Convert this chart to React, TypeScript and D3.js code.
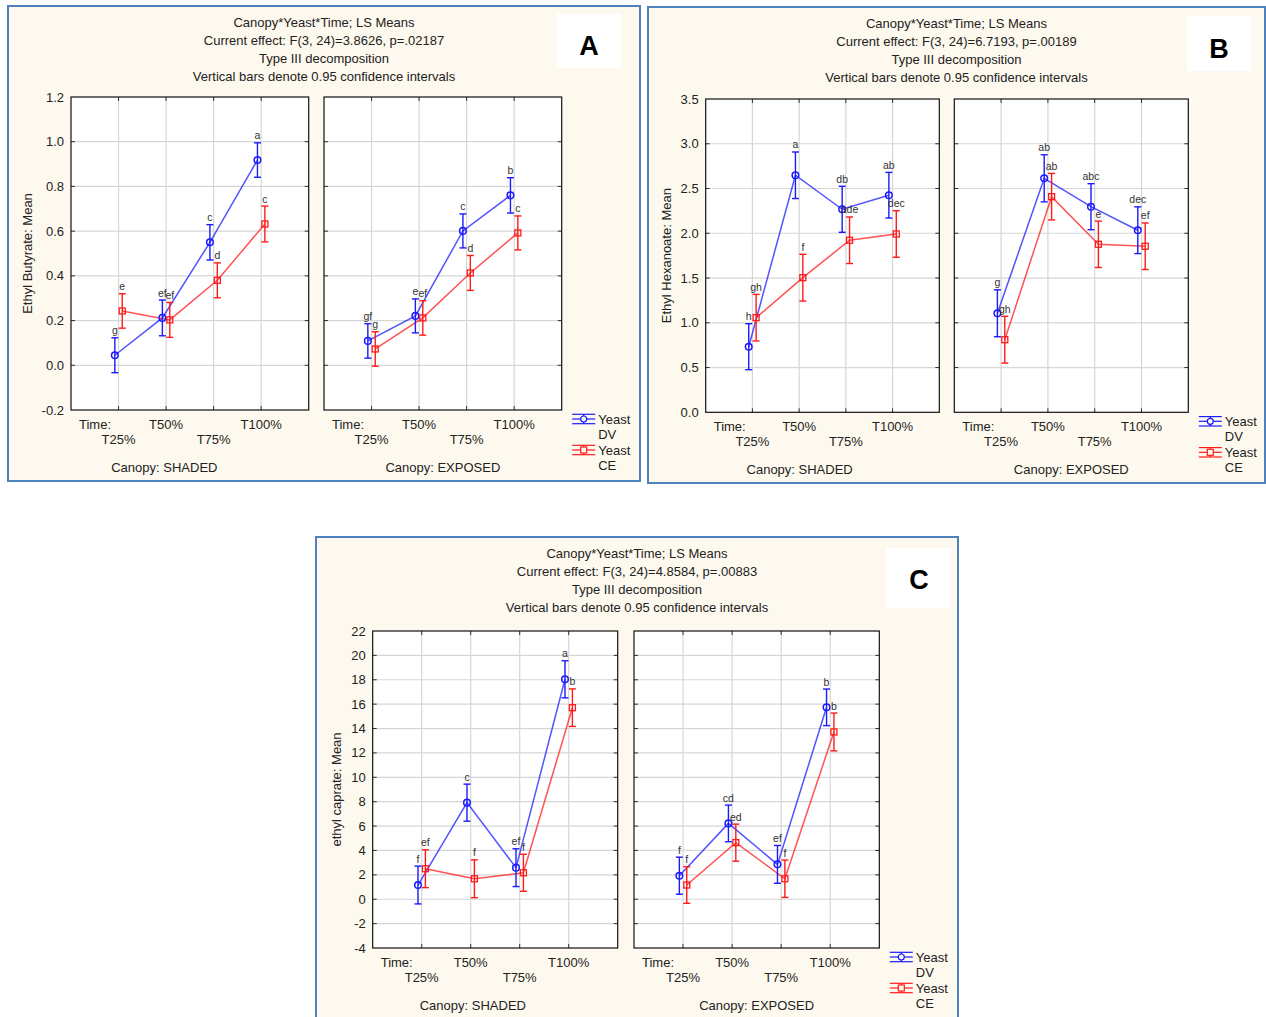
import React from "react";
import * as d3 from "d3";

// ---------- categories & tick labels ----------
const timeLabels = ["T25%", "T50%", "T75%", "T100%"];
const canopyLabels = ["SHADED", "EXPOSED"];
const yeastLabels = ["DV", "CE"];

const ticksA = [-0.2, 0, 0.2, 0.4, 0.6, 0.8, 1.0, 1.2];
const ticksB = [0, 0.5, 1.0, 1.5, 2.0, 2.5, 3.0, 3.5];
const ticksC = [-4, -2, 0, 2, 4, 6, 8, 10, 12, 14, 16, 18, 20, 22];

// ---------- Panel A: Ethyl Butyrate ----------
const butShadedDV = [0.045, 0.212, 0.55, 0.918];
const butShadedDVci = [0.078, 0.08, 0.079, 0.077];
const butShadedDVlet = ["g", "ef", "c", "a"];
const butShadedCE = [0.243, 0.203, 0.38, 0.632];
const butShadedCEci = [0.077, 0.078, 0.078, 0.08];
const butShadedCElet = ["e", "ef", "d", "c"];
const butExposedDV = [0.109, 0.221, 0.601, 0.76];
const butExposedDVci = [0.077, 0.076, 0.076, 0.079];
const butExposedDVlet = ["gf", "e", "c", "b"];
const butExposedCE = [0.073, 0.212, 0.413, 0.592];
const butExposedCEci = [0.077, 0.077, 0.078, 0.076];
const butExposedCElet = ["g", "ef", "d", "c"];

// ---------- Panel B: Ethyl Hexanoate ----------
const hexShadedDV = [0.733, 2.648, 2.268, 2.425];
const hexShadedDVci = [0.257, 0.26, 0.257, 0.255];
const hexShadedDVlet = ["h", "a", "db", "ab"];
const hexShadedCE = [1.057, 1.504, 1.922, 1.992];
const hexShadedCEci = [0.26, 0.261, 0.26, 0.26];
const hexShadedCElet = ["gh", "f", "ade", "dec"];
const hexExposedDV = [1.106, 2.614, 2.297, 2.034];
const hexExposedDVci = [0.262, 0.263, 0.257, 0.261];
const hexExposedDVlet = ["g", "ab", "abc", "dec"];
const hexExposedCE = [0.811, 2.409, 1.877, 1.855];
const hexExposedCEci = [0.261, 0.26, 0.259, 0.26];
const hexExposedCElet = ["gh", "ab", "e", "ef"];

// ---------- Panel C: ethyl caprate ----------
const capShadedDV = [1.165, 7.92, 2.59, 18.04];
const capShadedDVci = [1.55, 1.52, 1.55, 1.52];
const capShadedDVlet = ["f", "c", "ef", "a"];
const capShadedCE = [2.5, 1.68, 2.17, 15.71];
const capShadedCEci = [1.55, 1.55, 1.52, 1.54];
const capShadedCElet = ["ef", "f", "f", "b"];
const capExposedDV = [1.93, 6.22, 2.86, 15.74];
const capExposedDVci = [1.52, 1.5, 1.55, 1.5];
const capExposedDVlet = ["f", "cd", "ef", "b"];
const capExposedCE = [1.165, 4.64, 1.68, 13.72];
const capExposedCEci = [1.5, 1.52, 1.53, 1.55];
const capExposedCElet = ["f", "ed", "f", "b"];

const titleA = ["Canopy*Yeast*Time; LS Means", "Current effect: F(3, 24)=3.8626, p=.02187", "Type III decomposition", "Vertical bars denote 0.95 confidence intervals"];
const titleB = ["Canopy*Yeast*Time; LS Means", "Current effect: F(3, 24)=6.7193, p=.00189", "Type III decomposition", "Vertical bars denote 0.95 confidence intervals"];
const titleC = ["Canopy*Yeast*Time; LS Means", "Current effect: F(3, 24)=4.8584, p=.00883", "Type III decomposition", "Vertical bars denote 0.95 confidence intervals"];

type Series = { mean: number[]; ci: number[]; letters: string[] };

const FONT = "'Liberation Sans', Arial, sans-serif";
const TXT = "#222";
const BLUE = "#1a1aff";
const RED = "#ff1a1a";

const panels = [
  {
    id: "A",
    title: titleA,
    yTitle: "Ethyl Butyrate: Mean",
    ticks: ticksA,
    fmt: (v: number) => v.toFixed(1),
    data: [
      [
        { mean: butShadedDV, ci: butShadedDVci, letters: butShadedDVlet },
        { mean: butShadedCE, ci: butShadedCEci, letters: butShadedCElet },
      ],
      [
        { mean: butExposedDV, ci: butExposedDVci, letters: butExposedDVlet },
        { mean: butExposedCE, ci: butExposedCEci, letters: butExposedCElet },
      ],
    ] as Series[][],
    frame: { x: 8, y: 6, w: 632, h: 475 },
    plots: [[71, 308.7], [324, 561.7]],
    top: 97,
    bottom: 410,
    yTitleX: 27,
    box: { x: 557, y: 14, w: 64, h: 54, cx: 589, cy: 45 },
  },
  {
    id: "B",
    title: titleB,
    yTitle: "Ethyl Hexanoate: Mean",
    ticks: ticksB,
    fmt: (v: number) => v.toFixed(1),
    data: [
      [
        { mean: hexShadedDV, ci: hexShadedDVci, letters: hexShadedDVlet },
        { mean: hexShadedCE, ci: hexShadedCEci, letters: hexShadedCElet },
      ],
      [
        { mean: hexExposedDV, ci: hexExposedDVci, letters: hexExposedDVlet },
        { mean: hexExposedCE, ci: hexExposedCEci, letters: hexExposedCElet },
      ],
    ] as Series[][],
    frame: { x: 648, y: 7, w: 617, h: 476 },
    plots: [[705.7, 939.3], [954.3, 1188.3]],
    top: 99,
    bottom: 412.3,
    yTitleX: 666,
    box: { x: 1187, y: 16, w: 64, h: 55, cx: 1219, cy: 48 },
  },
  {
    id: "C",
    title: titleC,
    yTitle: "ethyl caprate: Mean",
    ticks: ticksC,
    fmt: (v: number) => String(v),
    data: [
      [
        { mean: capShadedDV, ci: capShadedDVci, letters: capShadedDVlet },
        { mean: capShadedCE, ci: capShadedCEci, letters: capShadedCElet },
      ],
      [
        { mean: capExposedDV, ci: capExposedDVci, letters: capExposedDVlet },
        { mean: capExposedCE, ci: capExposedCEci, letters: capExposedCElet },
      ],
    ] as Series[][],
    frame: { x: 316, y: 537, w: 642, h: 500 },
    plots: [[372.7, 617.7], [634, 879.3]],
    top: 631,
    bottom: 948,
    yTitleX: 336,
    box: { x: 886, y: 548, w: 65, h: 60, cx: 919, cy: 579 },
  },
];

function LegendGlyph({ x, cy, color, marker }: { x: number; cy: number; color: string; marker: "circle" | "square" }) {
  const w = 23;
  const cx = x + w / 2;
  return (
    <g stroke={color} strokeWidth={1.2} fill="none">
      <line x1={x} x2={x + w} y1={cy - 4.7} y2={cy - 4.7} />
      <line x1={x} x2={x + w} y1={cy} y2={cy} />
      <line x1={x} x2={x + w} y1={cy + 4.7} y2={cy + 4.7} />
      <line x1={cx} x2={cx} y1={cy - 4.7} y2={cy + 4.7} />
      {marker === "circle" ? (
        <circle cx={cx} cy={cy} r={3} fill="#fef9ee" />
      ) : (
        <rect x={cx - 3} y={cy - 3} width={6} height={6} fill="#fef9ee" />
      )}
    </g>
  );
}

function Panel({ p }: { p: (typeof panels)[number] }) {
  const y = d3.scaleLinear().domain([p.ticks[0], p.ticks[p.ticks.length - 1]]).range([p.bottom, p.top]);
  const colors = [BLUE, RED];
  const offsets = [-3.7, 3.7];
  const f = p.frame;
  return (
    <g>
      <rect x={f.x} y={f.y} width={f.w} height={f.h} fill="#fef9ee" stroke="#4f81bd" strokeWidth={2} />
      <rect x={p.box.x} y={p.box.y} width={p.box.w} height={p.box.h} fill="#ffffff" />
      <text x={p.box.cx} y={p.box.cy + 10} textAnchor="middle" fontFamily={FONT} fontWeight="bold" fontSize={27} fill="#000">
        {p.id}
      </text>
      {p.title.map((t, i) => (
        <text key={i} x={f.x + f.w / 2} y={f.y + 20.5 + i * 18.3} textAnchor="middle" fontFamily={FONT} fontSize={13} fill={TXT}>
          {t}
        </text>
      ))}
      <text
        transform={`translate(${p.yTitleX},${(p.top + p.bottom) / 2}) rotate(-90)`}
        textAnchor="middle"
        dy="0.35em"
        fontFamily={FONT}
        fontSize={13}
        fill={TXT}
      >
        {p.yTitle}
      </text>
      {p.ticks.map((t, i) => (
        <text key={i} x={p.plots[0][0] - 7} y={y(t)} dy="0.35em" textAnchor="end" fontFamily={FONT} fontSize={13} fill={TXT}>
          {p.fmt(t)}
        </text>
      ))}
      {p.plots.map((range, pi) => {
        const x = d3.scaleLinear().domain([0, timeLabels.length + 1]).range(range);
        const [x0, x1] = range;
        const series = p.data[pi];
        return (
          <g key={pi}>
            <rect x={x0} y={p.top} width={x1 - x0} height={p.bottom - p.top} fill="#fff" />
            {p.ticks.slice(1, -1).map((t, i) => (
              <line key={"gy" + i} x1={x0} x2={x1} y1={y(t)} y2={y(t)} stroke="#d6d6d6" strokeWidth={1.2} />
            ))}
            {timeLabels.map((_, i) => (
              <line key={"gx" + i} x1={x(i + 1)} x2={x(i + 1)} y1={p.top} y2={p.bottom} stroke="#d6d6d6" strokeWidth={1.2} />
            ))}
            {p.ticks.slice(1, -1).map((t, i) => (
              <g key={"ty" + i} stroke="#333" strokeWidth={1}>
                <line x1={x0} x2={x0 + 4} y1={y(t)} y2={y(t)} />
                <line x1={x1 - 4} x2={x1} y1={y(t)} y2={y(t)} />
              </g>
            ))}
            {timeLabels.map((_, i) => (
              <g key={"tx" + i} stroke="#333" strokeWidth={1}>
                <line x1={x(i + 1)} x2={x(i + 1)} y1={p.top} y2={p.top + 4} />
                <line x1={x(i + 1)} x2={x(i + 1)} y1={p.bottom - 4} y2={p.bottom} />
              </g>
            ))}
            <rect x={x0} y={p.top} width={x1 - x0} height={p.bottom - p.top} fill="none" stroke="#111" strokeWidth={1.2} />
            {series.map((s, si) => {
              const line = d3
                .line<number>()
                .x((_, i) => x(i + 1) + offsets[si])
                .y((d) => y(d));
              return (
                <path key={"l" + si} d={line(s.mean) || ""} fill="none" stroke={colors[si]} strokeOpacity={0.75} strokeWidth={1.5} />
              );
            })}
            {series.map((s, si) => (
              <g key={"e" + si} stroke={colors[si]} strokeWidth={1.4} fill="none">
                {s.mean.map((m, i) => {
                  const cx = x(i + 1) + offsets[si];
                  const yt = y(m + s.ci[i]);
                  const yb = y(m - s.ci[i]);
                  return (
                    <g key={i}>
                      <line x1={cx} x2={cx} y1={yt} y2={yb} />
                      <line x1={cx - 3.5} x2={cx + 3.5} y1={yt} y2={yt} />
                      <line x1={cx - 3.5} x2={cx + 3.5} y1={yb} y2={yb} />
                      {si === 0 ? (
                        <circle cx={cx} cy={y(m)} r={3.3} fill="none" strokeWidth={1.5} />
                      ) : (
                        <rect x={cx - 3} y={y(m) - 3} width={6} height={6} fill="none" strokeWidth={1.3} />
                      )}
                    </g>
                  );
                })}
              </g>
            ))}
            {series.map((s, si) =>
              s.mean.map((m, i) => (
                <text
                  key={"t" + si + i}
                  x={x(i + 1) + offsets[si]}
                  y={y(m + s.ci[i]) - 3.5}
                  textAnchor="middle"
                  fontFamily={FONT}
                  fontSize={10.5}
                  fill="#333"
                >
                  {s.letters[i]}
                </text>
              ))
            )}
            <text x={x0 + 8} y={p.bottom + 18.5} fontFamily={FONT} fontSize={13} fill={TXT}>
              Time:
            </text>
            {timeLabels.map((t, i) => (
              <text
                key={"xl" + i}
                x={x(i + 1)}
                y={p.bottom + (i % 2 === 0 ? 33.5 : 18.5)}
                textAnchor="middle"
                fontFamily={FONT}
                fontSize={13}
                fill={TXT}
              >
                {t}
              </text>
            ))}
            <text
              x={pi === 0 ? (f.x + 12 + x1) / 2 : (x0 + x1) / 2}
              y={p.bottom + 61.5}
              textAnchor="middle"
              fontFamily={FONT}
              fontSize={13}
              fill={TXT}
            >
              {"Canopy: " + canopyLabels[pi]}
            </text>
          </g>
        );
      })}
      {yeastLabels.map((lab, si) => {
        const lx = p.plots[1][1] + 10.5;
        const cy = p.bottom + 9 + si * 31;
        return (
          <g key={"lg" + si}>
            <LegendGlyph x={lx} cy={cy} color={colors[si]} marker={si === 0 ? "circle" : "square"} />
            <text x={lx + 26} y={cy + 4.5} fontFamily={FONT} fontSize={13} fill={TXT}>
              Yeast
            </text>
            <text x={lx + 26} y={cy + 19.5} fontFamily={FONT} fontSize={13} fill={TXT}>
              {lab}
            </text>
          </g>
        );
      })}
    </g>
  );
}

export default function App() {
  return (
    <svg
      width={1266}
      height={1017}
      viewBox="0 0 1266 1017"
      style={{ position: "absolute", left: 0, top: 0, display: "block", background: "#fff" }}
    >
      {panels.map((p) => (
        <Panel key={p.id} p={p} />
      ))}
    </svg>
  );
}
